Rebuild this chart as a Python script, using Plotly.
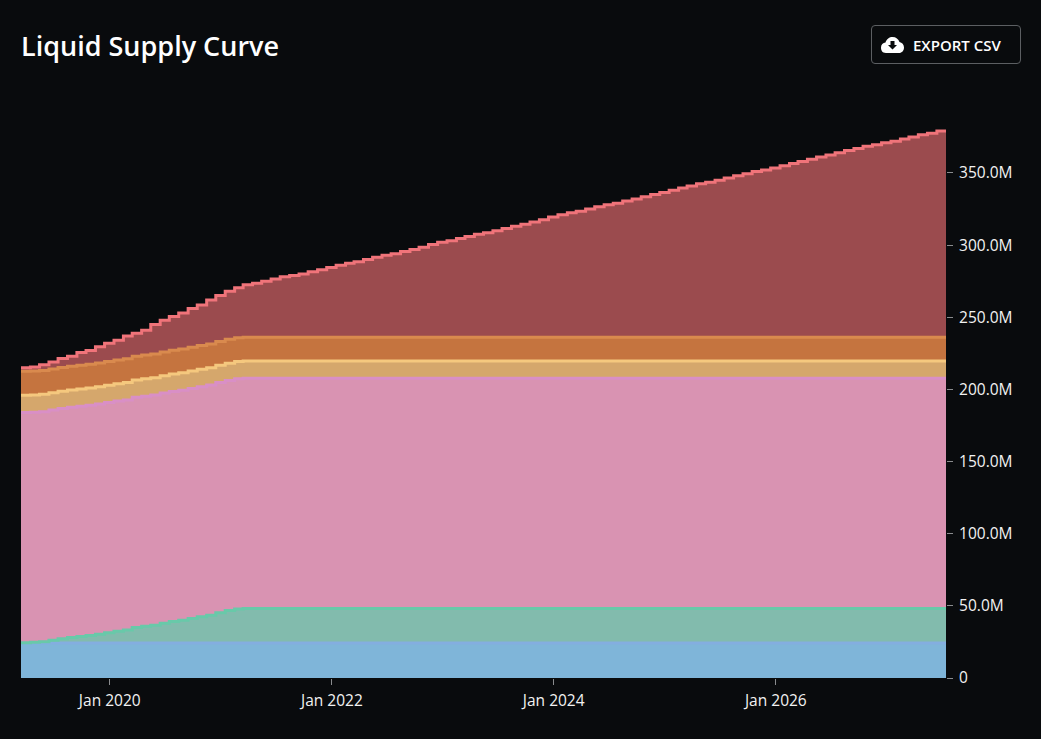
import pandas as pd
import plotly.express as px #if using plotly

W = 1041
H = 739

# layer values, in millions, one per month
total = [215, 215.5, 217, 219, 221.5, 223, 225.5, 227, 229.5, 232, 234, 237, 239, 241, 245, 248, 250.5,
         253, 256, 258.5, 262, 265, 268, 270.5, 272.5, 273.5, 275, 276.5, 278, 279, 280, 281.5, 283, 284.5,
         286, 287.5, 288.5, 290, 291.5, 293, 294, 295.5, 297, 298.5, 300.5, 302, 303, 304.5, 306, 307.5,
         308.5, 310, 311.5, 313, 314.5, 316, 317.5, 319.5, 321, 322.5, 323.5, 325, 326.5, 328, 329, 330.5,
         332, 333.5, 335, 336.5, 338, 339.5, 341, 342.5, 343.5, 345, 346.5, 348, 349.5, 351, 352, 353.5,
         355, 356.5, 358, 359.5, 361, 362.5, 364, 365.5, 367, 368.5, 369.5, 371, 372, 373.5, 375, 376.5,
         377.5, 379, 380]
vesting = [0.3, 0.5, 0.9, 2.0, 3.0, 3.9, 4.6, 5.3, 6.1, 7.2, 8.2, 9.0, 10.8, 11.6, 12.4, 13.8, 14.9, 15.8,
           17.0, 18.2, 19.3, 21.0, 22.5, 23.6] + [24] * 77

supply_df = pd.DataFrame({'date': pd.date_range('2019-03-01', periods=101, freq='MS') + pd.Timedelta(days=14)})
supply_df['blue'] = 24.2
supply_df['green'] = vesting
supply_df['pink'] = 159.5
supply_df['sand'] = 12
supply_df['orange'] = 16.5
supply_df['red'] = [t - 24.2 - v - 159.5 - 12 - 16.5 for t, v in zip(total, vesting)]

fig = px.area(supply_df, x='date', y=['blue', 'green', 'pink', 'sand', 'orange', 'red'], line_shape='hv')

line_colors = {'blue': '#84aee0', 'green': '#68c9a9', 'pink': '#d98fc6',
               'sand': '#f5c87e', 'orange': '#d98a4e', 'red': '#f0747a'}
fill_colors = {'blue': '#7fb5d9', 'green': '#82bbad', 'pink': '#d993b2',
               'sand': '#d5a76c', 'orange': '#c5743f', 'red': '#9b4b4e'}
fig.for_each_trace(lambda t: t.update(line=dict(color=line_colors[t.name], width=3),
                                      fillcolor=fill_colors[t.name]))

# button is drawn in page pixels
def to_paper(path):
    out = []
    for part in path.split():
        if part[0].isalpha():
            out.append(part)
        else:
            x, y = part.split(',')
            out.append(f"{float(x) / W},{1 - float(y) / H}")
    return ' '.join(out)

button = ("M 875,25.5 L 1017,25.5 Q 1020.5,25.5 1020.5,29 L 1020.5,60 Q 1020.5,63.5 1017,63.5 "
          "L 875,63.5 Q 871.5,63.5 871.5,60 L 871.5,29 Q 871.5,25.5 875,25.5 Z")
cloud = ("M 886,53 C 882,53 881,50 881,47.5 C 881,44.5 883,43 885.5,42.5 C 886.5,39 889.5,37 892.5,37 "
         "C 896,37 898.5,39 899.5,42 C 902,42.5 904,44.5 904,47.5 C 904,50.5 902,53 899,53 Z")
arrow = "M 890.5,41 L 894.5,41 L 894.5,45 L 897,45 L 892.5,49.5 L 888,45 L 890.5,45 Z"

fig.update_layout(
    width=W, height=H,
    margin={"r":0,"t":0,"l":0,"b":0},
    showlegend=False,
    paper_bgcolor='#090b0d',
    plot_bgcolor='#090b0d',
    font=dict(family='Open Sans', color='#f2f2f2', size=15.5),
    shapes=[
        dict(type='path', path=to_paper(button), xref='paper', yref='paper',
             line=dict(color='#5c5f62', width=1), fillcolor='rgba(0,0,0,0)'),
        dict(type='path', path=to_paper(cloud), xref='paper', yref='paper',
             line=dict(width=0), fillcolor='#ffffff'),
        dict(type='path', path=to_paper(arrow), xref='paper', yref='paper',
             line=dict(width=0), fillcolor='#090b0d'),
    ],
    annotations=[
        dict(text='Liquid Supply Curve', x=19 / W, y=1 - 46 / H, xref='paper', yref='paper',
             xanchor='left', yanchor='middle', showarrow=False,
             font=dict(size=27, color='#ffffff', weight=600)),
        dict(text='EXPORT CSV', x=911 / W, y=1 - 45 / H, xref='paper', yref='paper',
             xanchor='left', yanchor='middle', showarrow=False,
             font=dict(size=15, color='#ffffff', weight=600)),
    ],
)
fig.update_xaxes(
    title_text=None, domain=[21 / W, 946 / W], range=['2019-03-15', '2027-07-15'], automargin=False,
    tick0='2020-01-01', dtick='M24', tickformat='%b %Y', ticklabelstandoff=2,
    showgrid=False, zeroline=False, showline=False,
    ticks='outside', ticklen=6, tickcolor='#8a8c8e', tickwidth=1,
)
fig.update_yaxes(
    title_text=None, side='right', domain=[1 - 678 / H, 1 - 120 / H], range=[0, 386.7], automargin=False,
    tickvals=[0, 50, 100, 150, 200, 250, 300, 350], ticklabelstandoff=3,
    ticktext=['0', '50.0M', '100.0M', '150.0M', '200.0M', '250.0M', '300.0M', '350.0M'],
    showgrid=False, zeroline=False, showline=False,
    ticks='outside', ticklen=6, tickcolor='#8a8c8e', tickwidth=1,
)
fig.write_html("out.html", config={'displayModeBar': False},
               post_script="document.body.style.margin='0';document.body.style.background='#090b0d';")
